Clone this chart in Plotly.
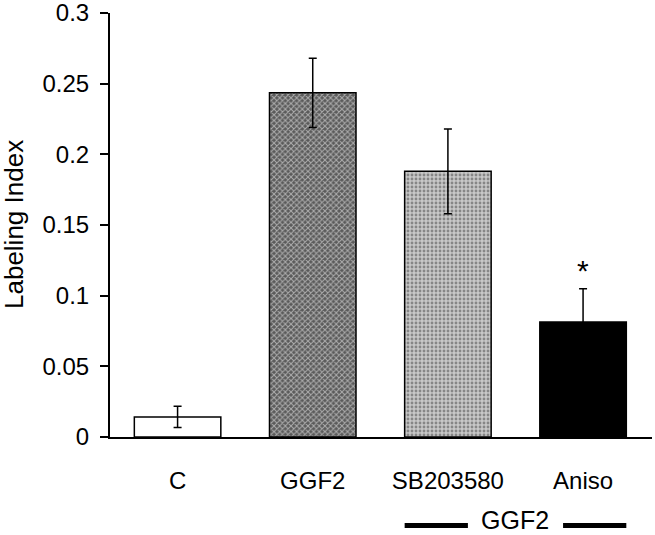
import plotly.graph_objects as go

categories = ["C", "GGF2", "SB203580", "Aniso"]
values = [0.0142, 0.2435, 0.188, 0.0814]
errors = [0.0075, 0.0245, 0.030, 0.0235]
y_ticks = [0, 0.05, 0.1, 0.15, 0.2, 0.25, 0.3]
y_tick_labels = ["0", "0.05", "0.1", "0.15", "0.2", "0.25", "0.3"]
bracket_label = "GGF2"
significance_mark = "*"
significance_y = 0.121

FONT = "Liberation Sans, Arial, sans-serif"

fig = go.Figure()

fills = ["white", "#5a5a5a", "#c8c8c8", "black"]
pattern_shapes = ["", "x", ".", ""]
pattern_solidity = [0.3, 0.45, 0.4, 0.3]

fig.add_trace(go.Bar(
    x=categories,
    y=values,
    width=0.64,
    marker=dict(
        color=fills,
        line=dict(color="black", width=1.5),
        pattern=dict(shape=pattern_shapes, fgcolor="black",
                     size=4, solidity=pattern_solidity, fillmode="overlay"),
    ),
    error_y=dict(type="data", array=errors, visible=True, color="black",
                 thickness=1.5, width=4),
    showlegend=False,
    hoverinfo="skip",
))

fig.add_annotation(x=categories[3], y=significance_y, text=significance_mark,
                   showarrow=False, yanchor="middle", yshift=-5,
                   font=dict(family=FONT, size=30, color="black"))

# GGF2 bracket below SB203580 and Aniso
left_edge = 2 - 0.32
right_edge = 3 + 0.32
gap_l, gap_r = 2.148, 2.852
line_y = -0.209
fig.add_shape(type="line", xref="x", yref="paper", x0=left_edge, x1=gap_l,
              y0=line_y, y1=line_y, line=dict(color="black", width=5))
fig.add_shape(type="line", xref="x", yref="paper", x0=gap_r, x1=right_edge,
              y0=line_y, y1=line_y, line=dict(color="black", width=5))
fig.add_annotation(x=2.5, xref="x", y=-0.2311, yref="paper", text=bracket_label,
                   showarrow=False, yanchor="bottom", borderpad=0,
                   font=dict(family=FONT, size=25, color="black"))

fig.add_annotation(x=0, xref="paper", y=0.5, yref="paper",
                   text="Labeling Index", textangle=-90, showarrow=False,
                   xanchor="center", yanchor="middle", xshift=-96,
                   font=dict(family=FONT, size=26, color="black"))

fig.update_layout(
    width=655, height=535,
    margin=dict(l=110, r=3, t=13, b=98, pad=0, autoexpand=False),
    paper_bgcolor="white", plot_bgcolor="white",
    font=dict(family=FONT, size=24, color="black"),
)
fig.update_xaxes(
    range=[-0.5, 3.51], showline=True, linecolor="black", linewidth=2,
    ticks="", showgrid=False, zeroline=False,
    tickfont=dict(size=24), ticklabelstandoff=21,
)
fig.update_yaxes(
    range=[0, 0.3], tickvals=y_ticks, ticktext=y_tick_labels,
    showline=True, linecolor="black", linewidth=2,
    ticks="outside", ticklen=8, tickwidth=2, tickcolor="black",
    showgrid=False, zeroline=False, tickfont=dict(size=24),
    ticklabelstandoff=6, ticklabeloverflow="allow",
)

fig.write_html("out.html", config={"displayModeBar": False},
               post_script="document.body.style.margin='0';document.body.style.overflow='hidden';")
